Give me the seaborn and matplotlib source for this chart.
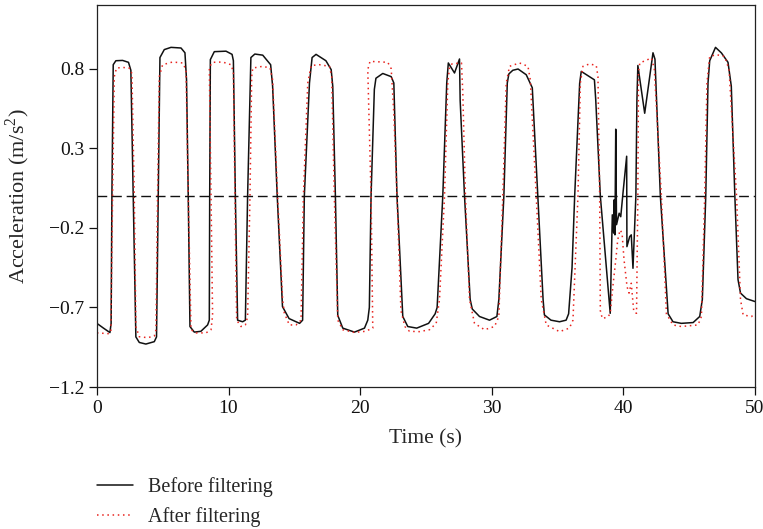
import matplotlib
matplotlib.use("Agg")
import matplotlib.pyplot as plt
import pandas as pd
import seaborn as sns

# values (time in s, acceleration in m/s^2)
before_time = [0.0, 0.5, 0.99, 1.08, 1.14, 1.24, 1.44, 1.95, 2.4, 2.58,
               2.76, 2.96, 3.22, 3.72, 4.36, 4.53, 4.66, 4.79, 5.12, 5.63,
               6.39, 6.69, 6.81, 6.94, 7.07, 7.4, 7.9, 8.41, 8.54, 8.57,
               8.62, 8.92, 9.81, 10.27, 10.37, 10.52, 10.69, 11.07, 11.28, 11.45,
               11.7, 12.0, 12.6, 13.2, 13.35, 13.7, 14.1, 14.6, 15.4, 15.63,
               15.76, 16.15, 16.35, 16.65, 17.4, 17.8, 17.92, 18.12, 18.3, 18.68,
               19.57, 20.33, 20.58, 20.7, 20.83, 21.08, 21.2, 21.72, 22.36, 22.56,
               22.8, 22.99, 23.24, 23.62, 24.3, 25.2, 25.7, 25.85, 26.28, 26.58,
               26.7, 27.17, 27.55, 27.6, 27.93, 28.36, 28.52, 29.07, 29.83, 30.39,
               30.54, 30.92, 31.18, 31.3, 31.6, 32.0, 32.62, 33.08, 33.5, 33.9,
               34.0, 34.5, 35.15, 35.65, 35.84, 36.1, 36.3, 36.68, 36.8, 37.8,
               37.9, 38.25, 39.0, 39.16, 39.26, 39.3, 39.36, 39.42, 39.48, 39.68,
               39.8, 39.97, 40.25, 40.27, 40.48, 40.6, 40.73, 40.95, 41.03, 41.1,
               41.62, 42.25, 42.4, 42.81, 43.4, 43.77, 44.4, 45.3, 45.8, 46.0,
               46.26, 46.43, 46.56, 47.0, 47.45, 47.95, 48.2, 48.47, 48.71, 48.9,
               49.35, 50.0]
before_acc = [-0.80, -0.83, -0.858, -0.80, 0.0, 0.825, 0.85, 0.852, 0.84, 0.79,
              0.0, -0.885, -0.92, -0.93, -0.915, -0.885, 0.0, 0.87, 0.92, 0.934,
              0.93, 0.90, 0.73, 0.0, -0.82, -0.855, -0.85, -0.81, -0.78, 0.0,
              0.857, 0.907, 0.91, 0.89, 0.85, 0.0, -0.78, -0.79, -0.78, 0.0,
              0.87, 0.892, 0.885, 0.825, 0.69, 0.0, -0.695, -0.77, -0.80, -0.78,
              0.0, 0.71, 0.87, 0.89, 0.85, 0.794, 0.69, 0.0, -0.75, -0.83,
              -0.855, -0.83, -0.78, -0.70, 0.0, 0.67, 0.74, 0.77, 0.75, 0.71,
              0.0, -0.32, -0.757, -0.82, -0.83, -0.80, -0.74, -0.70, 0.0, 0.71,
              0.836, 0.773, 0.861, 0.6, 0.0, -0.65, -0.71, -0.757, -0.78, -0.757,
              -0.65, 0.0, 0.71, 0.767, 0.79, 0.798, 0.762, 0.68, 0.0, -0.65,
              -0.747, -0.78, -0.79, -0.78, -0.74, -0.45, 0.0, 0.71, 0.783, 0.73,
              0.605, 0.0, -0.737, -0.118, -0.233, -0.024, -0.244, 0.42, -0.18, -0.108,
              -0.13, 0.018, 0.25, -0.318, -0.255, -0.244, -0.454, 0.0, 0.605, 0.82,
              0.52, 0.90, 0.86, 0.0, -0.74, -0.79, -0.80, -0.795, -0.757, -0.65,
              0.0, 0.71, 0.85, 0.934, 0.899, 0.84, 0.69, 0.0, -0.525, -0.61,
              -0.645, -0.663]

after_time = [0.0, 0.94, 1.06, 1.19, 1.32, 1.49, 1.95, 2.46, 2.66, 2.84,
              2.96, 3.22, 3.85, 4.36, 4.49, 4.61, 4.74, 4.99, 5.75, 6.51,
              6.77, 6.94, 7.15, 7.53, 8.29, 8.67, 8.79, 8.67, 8.54, 8.79,
              9.55, 10.19, 10.37, 10.49, 10.62, 10.95, 11.28, 11.45, 11.63, 11.76,
              11.84, 12.6, 13.16, 13.35, 13.73, 14.11, 14.24, 14.62, 15.13, 15.51,
              15.69, 16.02, 16.28, 16.9, 17.67, 17.84, 18.04, 18.3, 18.68, 19.57,
              20.4, 20.96, 20.83, 20.58, 20.75, 22.1, 22.36, 22.56, 22.8, 23.1,
              23.4, 23.75, 24.5, 25.27, 25.78, 26.03, 26.41, 26.66, 26.8, 27.0,
              27.7, 27.8, 28.0, 28.31, 28.69, 29.45, 30.21, 30.54, 30.84, 31.1,
              31.35, 32.11, 32.75, 32.93, 33.38, 33.76, 34.14, 35.15, 35.9, 36.17,
              36.55, 36.73, 36.93, 37.43, 37.94, 38.07, 38.2, 38.25, 38.4, 38.8,
              39.0, 39.2, 39.45, 39.57, 39.75, 39.9, 40.05, 40.28, 40.43, 40.6,
              40.79, 41.0, 41.1, 41.15, 41.25, 42.13, 42.35, 42.89, 43.27, 43.77,
              44.4, 45.67, 45.93, 46.18, 46.35, 46.56, 47.07, 47.7, 48.03, 48.6,
              48.9, 49.1, 49.73, 50.0]
after_acc = [-0.86, -0.865, -0.85, 0.0, 0.75, 0.804, 0.808, 0.804, 0.77, 0.0,
             -0.82, -0.884, -0.89, -0.88, -0.84, 0.0, 0.75, 0.825, 0.842, 0.836,
             0.794, 0.0, -0.84, -0.86, -0.86, -0.84, -0.75, 0.0, 0.81, 0.84,
             0.842, 0.825, 0.78, 0.0, -0.78, -0.82, -0.81, -0.76, 0.0, 0.75,
             0.804, 0.815, 0.804, 0.73, 0.0, -0.65, -0.735, -0.81, -0.81, -0.78,
             0.0, 0.71, 0.82, 0.825, 0.815, 0.75, 0.0, -0.78, -0.84, -0.857,
             -0.85, -0.83, 0.0, 0.794, 0.846, 0.84, 0.80, 0.52, 0.0, -0.72,
             -0.82, -0.85, -0.852, -0.84, -0.80, -0.65, 0.0, 0.71, 0.815, 0.831,
             0.836, 0.65, 0.0, -0.65, -0.80, -0.84, -0.82, -0.757, 0.0, 0.71,
             0.815, 0.836, 0.815, 0.73, 0.0, -0.65, -0.81, -0.852, -0.83, -0.78,
             0.0, 0.71, 0.815, 0.83, 0.82, 0.75, 0.0, -0.72, -0.77, -0.76,
             -0.74, -0.57, -0.38, -0.275, -0.213, -0.233, -0.4, -0.57, -0.61, -0.548,
             -0.726, -0.737, 0.0, 0.78, 0.836, 0.867, 0.80, 0.0, -0.74, -0.81,
             -0.82, -0.81, -0.757, 0.0, 0.71, 0.877, 0.888, 0.877, 0.794, 0.0,
             -0.65, -0.747, -0.757, -0.74]

y_ticks = [0.8, 0.3, -0.2, -0.7, -1.2]
x_ticks = [0, 10, 20, 30, 40, 50]

before = pd.DataFrame({"time": before_time, "acc": before_acc})
after = pd.DataFrame({"time": after_time, "acc": after_acc})

sns.set_style("ticks")
plt.rcParams["font.family"] = ["Liberation Serif", "DejaVu Serif"]
plt.rcParams["mathtext.fontset"] = "custom"
plt.rcParams["mathtext.rm"] = "Liberation Serif"
plt.rcParams["axes.unicode_minus"] = True

fig = plt.figure(figsize=(7.63, 5.29), dpi=100)
ax = fig.add_axes([0.127, 0.2684, 0.8625, 0.7221])

sns.lineplot(data=before, x="time", y="acc", sort=False, estimator=None,
             color="#111111", linewidth=1.1, label="Before filtering", ax=ax)
sns.lineplot(data=after, x="time", y="acc", sort=False, estimator=None,
             color="#e8231e", linewidth=1.1, linestyle=(0, (1, 2.4)),
             label="After filtering", ax=ax)
ax.axhline(0, color="#111111", linewidth=1.0, linestyle=(0, (7, 3.5)))

ax.set_xlim(0, 50)
ax.set_ylim(-1.2, 1.2)
ax.set_xticks(x_ticks)
ax.set_yticks(y_ticks)
ax.tick_params(direction="out", length=5.5, width=0.9, labelsize=14,
               colors="#111111")
for side in ["top", "right", "left", "bottom"]:
    ax.spines[side].set_visible(True)
    ax.spines[side].set_linewidth(0.9)
    ax.spines[side].set_color("#222222")

ax.set_xlabel("Time (s)", fontsize=15.5, labelpad=9)
ax.set_ylabel(r"Acceleration (m/s$^\mathregular{2}$)", fontsize=16, labelpad=12)

ax.legend(loc="upper left", bbox_to_anchor=(0.127, 0.098),
          bbox_transform=fig.transFigure, frameon=False, fontsize=14.5,
          handlelength=1.8, handletextpad=0.75, labelspacing=0.5,
          borderpad=0, borderaxespad=0)

fig.savefig("out.png", dpi=100)
